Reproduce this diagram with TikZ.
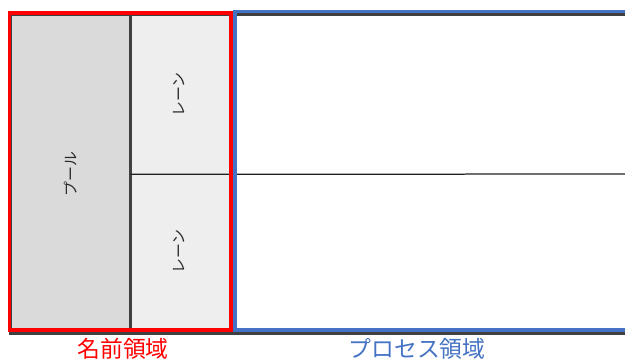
\documentclass[tikz,border=0pt]{standalone}
\usepackage{fontspec}
\usetikzlibrary{positioning}
\newfontfamily\jpfont{Noto Sans CJK JP}
\definecolor{rojoMarco}{HTML}{FF0000}
\definecolor{azulMarco}{HTML}{4472C4}
\definecolor{grisBorde}{HTML}{404040}
\definecolor{grisPool}{HTML}{DADADA}
\definecolor{grisLane}{HTML}{EEEEEE}
\tikzset{
  cajaPool/.style={fill=grisPool, draw=none, inner sep=0pt},
  cajaLane/.style={fill=grisLane, draw=none, inner sep=0pt},
  textoCarril/.style={rotate=90, font=\jpfont\fontsize{8.5}{9}\selectfont, text=grisBorde!60!black},
  bordePool/.style={draw=grisBorde, line width=0.06cm},
  lineaLane/.style={draw=grisBorde!50!black, line width=0.025cm},
  marcoNombre/.style={draw=rojoMarco, line width=0.08cm},
  marcoProceso/.style={draw=azulMarco, line width=0.065cm},
  etiquetaArea/.style={font=\jpfont\fontsize{13}{13}\selectfont},
}
\begin{document}
\begin{tikzpicture}[x=0.02cm, y=-0.02cm]
  \useasboundingbox (0,0) rectangle (625,362);
  % areas
  \node[cajaPool, minimum width=2.38cm, minimum height=6.36cm] (pool) at (70.5,174) {};
  \node[cajaLane, minimum width=2.0cm, minimum height=3.18cm, anchor=north west] (laneA) at (pool.north east) {};
  \node[cajaLane, minimum width=2.0cm, minimum height=3.18cm, below=0pt of laneA] (laneB) {};
  \coordinate (finA) at (640,174);
  \coordinate (finSup) at (640,15);
  \coordinate (finInf) at (640,333);

  % pool and lane borders
  \draw[bordePool] (pool.north west) rectangle (finInf);
  \draw[bordePool] (pool.north east) -- (pool.south east);
  \draw[lineaLane] (laneA.south west) -- (finA);

  \node[textoCarril] (tPool) at (pool.center) {プール};
  \node[textoCarril] (tLaneA) at ([xshift=-0.04cm]laneA.center) {レーン};
  \node[textoCarril] (tLaneB) at ([xshift=-0.04cm, yshift=0.05cm]laneB.center) {レーン};

  % frames
  \draw[marcoNombre] (9.5,12.5) rectangle (230.5,330);
  \draw[marcoProceso] (235,11.5) rectangle (640,330);

  \node[etiquetaArea, text=rojoMarco] (nombre) at (123,349) {名前領域};
  \node[etiquetaArea, text=azulMarco] (proceso) at (417,349) {プロセス領域};
\end{tikzpicture}
\end{document}
